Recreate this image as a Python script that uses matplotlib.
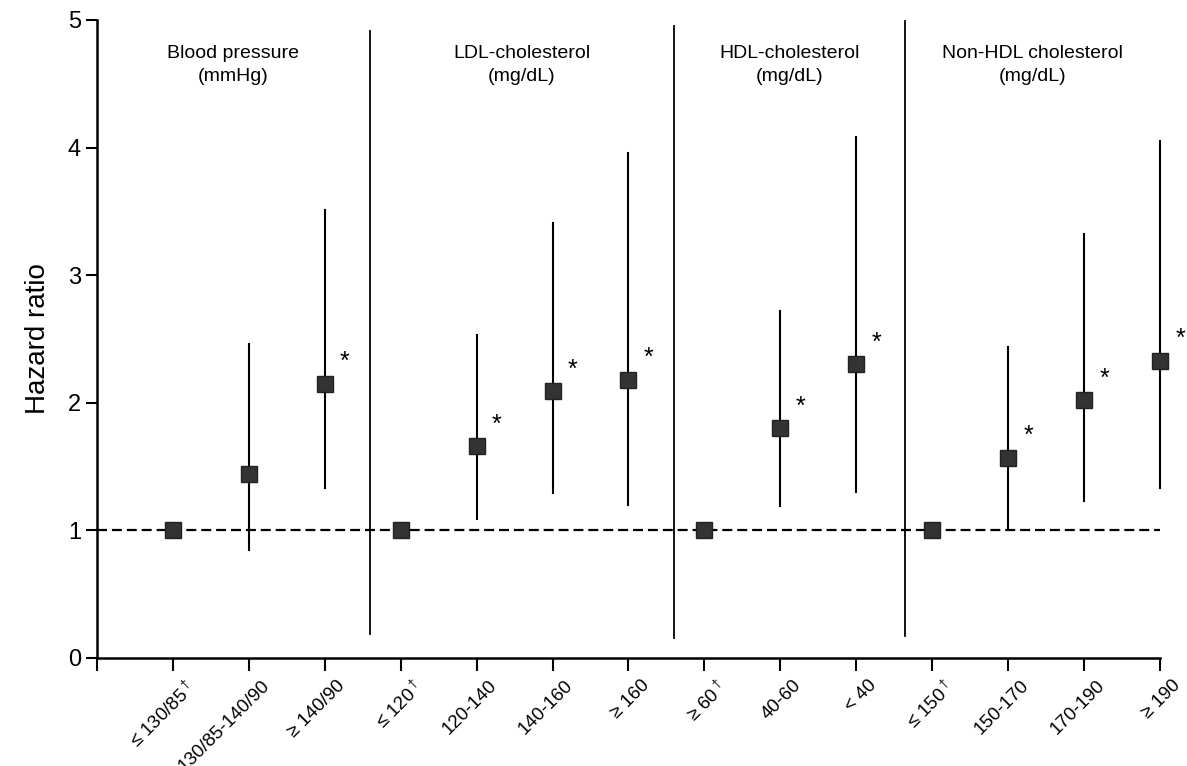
import numpy as np
import matplotlib
matplotlib.use("Agg")
import matplotlib.pyplot as plt
import matplotlib.transforms as mtransforms

plt.rcParams['font.family'] = ['Liberation Sans', 'DejaVu Sans']
plt.rcParams['mathtext.fontset'] = 'custom'
plt.rcParams['mathtext.rm'] = 'Liberation Sans'

# categories and values
labels = ['≤ 130/85$^\\dagger$', '130/85-140/90', '≥ 140/90',
          '≤ 120$^\\dagger$', '120-140', '140-160', '≥ 160',
          '≥ 60$^\\dagger$', '40-60', '< 40',
          '≤ 150$^\\dagger$', '150-170', '170-190', '≥ 190']
hr = [1.0, 1.44, 2.15,
      1.0, 1.66, 2.09, 2.18,
      1.0, 1.80, 2.30,
      1.0, 1.57, 2.02, 2.33]
ci_low = [np.nan, 0.85, 1.33,
          np.nan, 1.09, 1.29, 1.20,
          np.nan, 1.19, 1.30,
          np.nan, 1.00, 1.23, 1.33]
ci_high = [np.nan, 2.46, 3.51,
           np.nan, 2.53, 3.41, 3.96,
           np.nan, 2.72, 4.08,
           np.nan, 2.44, 3.32, 4.05]
signif = [False, False, True,
          False, True, True, True,
          False, True, True,
          False, True, True, True]

groups = ['Blood pressure\n(mmHg)', 'LDL-cholesterol\n(mg/dL)',
          'HDL-cholesterol\n(mg/dL)', 'Non-HDL cholesterol\n(mg/dL)']
seps = [3.59, 7.6, 10.64]
sep_top = [4.91, 4.95, 4.99]
sep_bot = [0.19, 0.16, 0.17]

x = np.arange(1, len(labels) + 1)

fig = plt.figure(figsize=(11.87, 7.66), dpi=100)
ax = fig.add_axes([0.0817, 0.141, 0.8955, 0.833])

# reference line
ax.plot([0, 14], [1, 1], color='black', lw=1.6, ls=(0, (4.5, 2.2)), zorder=1)

# CI lines
for xi, lo, hi in zip(x, ci_low, ci_high):
    if not np.isnan(lo):
        ax.plot([xi, xi], [lo, hi], color='black', lw=1.5, zorder=2, clip_on=False)

ax.plot(x, hr, ls='none', marker='s', ms=11.5, color='#333333',
        markeredgecolor='#222222', zorder=3, clip_on=False)

for xi, h, s in zip(x, hr, signif):
    if s:
        ax.text(xi + 0.2, h + 0.17, '*', fontsize=18, ha='left', va='center')

# panel separators
for sx, t, b in zip(seps, sep_top, sep_bot):
    ax.plot([sx, sx], [b, t], color='black', lw=1.3)

bounds = [0] + seps + [14]
for i, g in enumerate(groups):
    ax.text((bounds[i] + bounds[i + 1]) / 2, 4.65, g, ha='center', va='center',
            fontsize=14, linespacing=1.45)

ax.set_xlim(0, 14)
ax.set_ylim(0, 5)
ax.set_xticks(np.arange(0, 15))
ax.set_xticklabels([])
# rotated category labels, nudged right/down from each tick
off = mtransforms.ScaledTranslation(0.12, -0.19, fig.dpi_scale_trans)
for xi, lab in zip(x, labels):
    ax.text(xi, 0, lab, transform=ax.get_xaxis_transform() + off,
            rotation=45, rotation_mode='anchor', ha='right', va='top',
            fontsize=13.5, clip_on=False)
ax.set_yticks([0, 1, 2, 3, 4, 5])
ax.tick_params(axis='y', labelsize=17, length=8, width=1.5, direction='out')
ax.tick_params(axis='x', length=9, width=1.5, direction='out')
ax.set_ylabel('Hazard ratio', fontsize=20, labelpad=12)

for side in ['top', 'right']:
    ax.spines[side].set_visible(False)
for side in ['left', 'bottom']:
    ax.spines[side].set_linewidth(1.8)

fig.savefig('out.png', dpi=100)
